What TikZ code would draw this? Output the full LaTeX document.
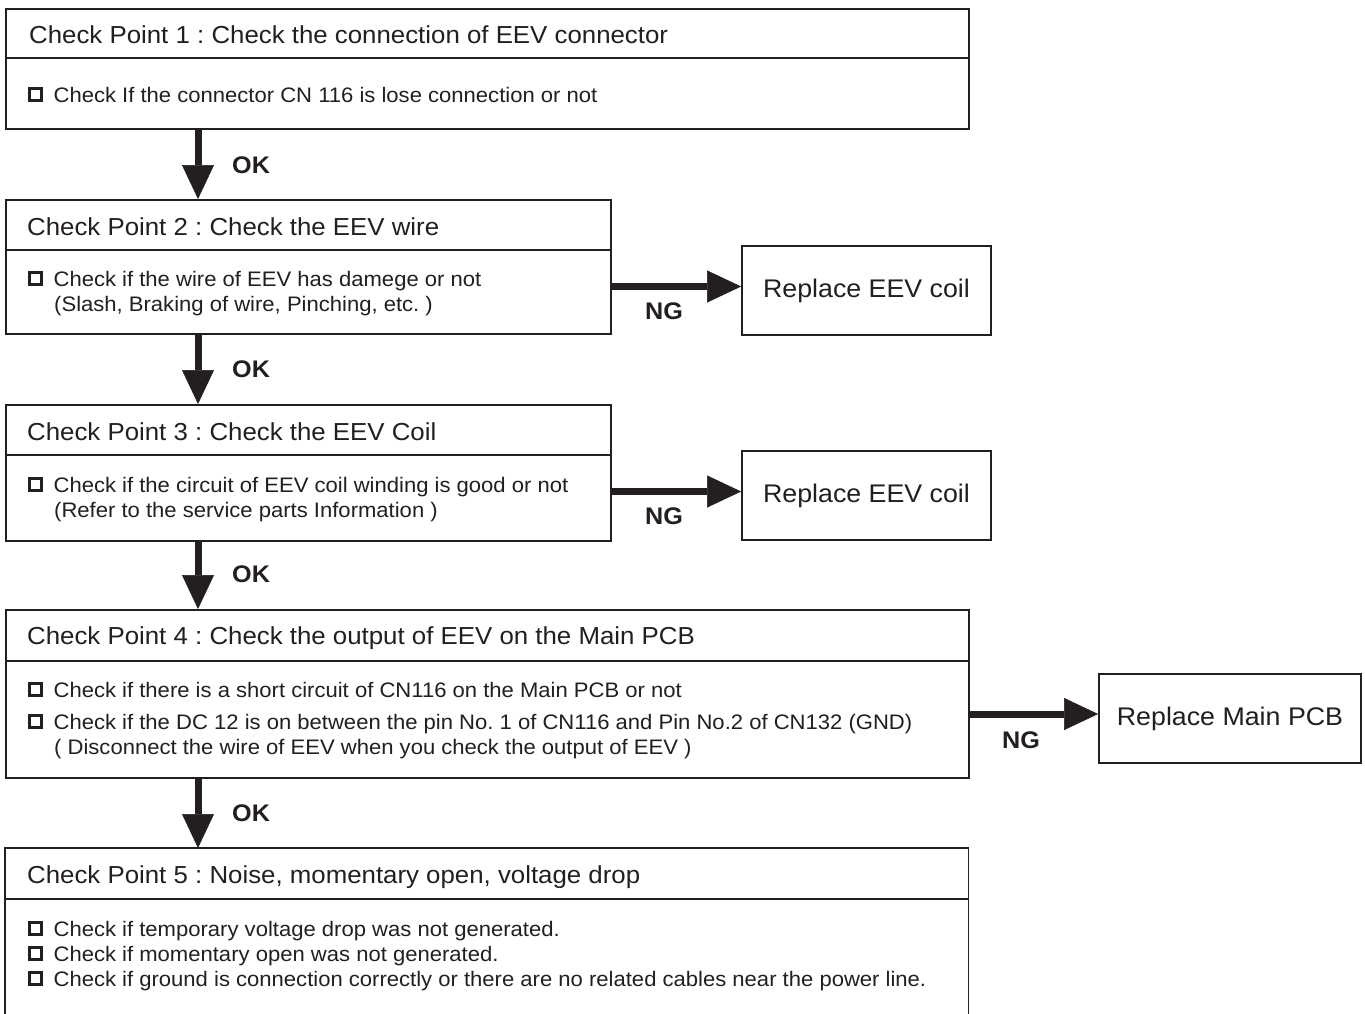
\documentclass[tikz,border=0pt]{standalone}
\usepackage{fontspec}
\setmainfont[FakeStretch=1.05]{Liberation Sans}
\usetikzlibrary{arrows.meta}
\definecolor{ink}{HTML}{231F20}
\frenchspacing
\newcommand\chkbox{\raisebox{3.2pt}{\setlength\fboxrule{3.2pt}\setlength\fboxsep{0pt}\fbox{\rule{0pt}{8.5pt}\hspace{8.5pt}}}\hspace{10.5pt}}
\tikzset{
  box/.style={draw=ink, line width=1.8pt, fill=white, inner sep=0pt, anchor=north west},
  head/.style={anchor=base west, inner sep=0pt, text=ink, font=\fontsize{24.6}{28}\selectfont},
  body/.style={anchor=base west, inner sep=0pt, text=ink, font=\fontsize{21}{24}\selectfont},
  lbl/.style={anchor=base west, inner sep=0pt, text=ink, font=\fontsize{24}{26}\selectfont\bfseries},
  repl/.style={box, anchor=center, text=ink, font=\fontsize{25.5}{28}\selectfont},
  bigarrow/.style={draw=ink, line width=7pt, -{Triangle[length=34pt,width=32pt,line width=0.5pt]}},
  divider/.style={draw=ink, line width=1.8pt}
}
\begin{document}
\begin{tikzpicture}[x=1pt,y=-1pt]
\useasboundingbox (0,0) rectangle (1365,1013);
% main boxes
\node[box, minimum width=963pt, minimum height=120pt] (b1) at (5,8) {};
\node[box, minimum width=605pt, minimum height=134pt] (b2) at (5,199) {};
\node[box, minimum width=605pt, minimum height=136pt] (b3) at (5,404) {};
\node[box, minimum width=963pt, minimum height=168pt] (b4) at (5,609) {};
\node[inner sep=0pt, anchor=north west, minimum width=963pt, minimum height=175pt] (b5) at (5,848) {};
\draw[divider] (b5.south west) -- (b5.north west) -- (b5.north east) -- (b5.south east);
% dividers
\coordinate (h1) at (0,58);
\coordinate (h2) at (0,250);
\coordinate (h3) at (0,455);
\coordinate (h4) at (0,661);
\coordinate (h5) at (0,899);
\draw[divider] (b1.west |- h1) -- (b1.east |- h1);
\draw[divider] (b2.west |- h2) -- (b2.east |- h2);
\draw[divider] (b3.west |- h3) -- (b3.east |- h3);
\draw[divider] (b4.west |- h4) -- (b4.east |- h4);
\draw[divider] (b5.west |- h5) -- (b5.east |- h5);
% replace boxes
\node[repl, minimum width=249pt, minimum height=89pt] (r1) at (866.5,290.5) {Replace EEV coil};
\node[repl, minimum width=249pt, minimum height=89pt] (r2) at (866.5,495.5) {Replace EEV coil};
\node[repl, minimum width=262pt, minimum height=89pt] (r3) at (1230,718.5) {Replace Main PCB};
% texts box 1
\node[head] (t1) at (29,43) {Check Point 1 : Check the connection of EEV connector};
\node[body] (t1a) at (28,102) {\chkbox Check If the connector CN 116 is lose connection or not};
% box 2
\node[head] (t2) at (27,235) {Check Point 2 : Check the EEV wire};
\node[body] (t2a) at (28,286) {\chkbox Check if the wire of EEV has damege or not};
\node[body] (t2b) at (54,311) {(Slash, Braking of wire, Pinching, etc. )};
% box 3
\node[head] (t3) at (27,440) {Check Point 3 : Check the EEV Coil};
\node[body] (t3a) at (28,492) {\chkbox Check if the circuit of EEV coil winding is good or not};
\node[body] (t3b) at (54,517) {(Refer to the service parts Information )};
% box 4
\node[head] (t4) at (27,644) {Check Point 4 : Check the output of EEV on the Main PCB};
\node[body] (t4a) at (28,697) {\chkbox Check if there is a short circuit of CN116 on the Main PCB or not};
\node[body] (t4b) at (28,729) {\chkbox Check if the DC 12 is on between the pin No. 1 of CN116 and Pin No.2 of CN132 (GND)};
\node[body] (t4c) at (54,754) {( Disconnect the wire of EEV when you check the output of EEV )};
% box 5
\node[head] (t5) at (27,883) {Check Point 5 : Noise, momentary open, voltage drop};
\node[body] (t5a) at (28,936) {\chkbox Check if temporary voltage drop was not generated.};
\node[body] (t5b) at (28,961) {\chkbox Check if momentary open was not generated.};
\node[body] (t5c) at (28,986) {\chkbox Check if ground is connection correctly or there are no related cables near the power line.};
% vertical arrows
\coordinate (ax) at (198,0);
\draw[bigarrow] (b1.south -| ax) -- (b2.north -| ax);
\draw[bigarrow] (b2.south -| ax) -- (b3.north -| ax);
\draw[bigarrow] (b3.south -| ax) -- (b4.north -| ax);
\draw[bigarrow] (b4.south -| ax) -- (b5.north -| ax);
\node[lbl] (ok1) at (232,173) {OK};
\node[lbl] (ok2) at (232,377) {OK};
\node[lbl] (ok3) at (232,582) {OK};
\node[lbl] (ok4) at (232,821) {OK};
% horizontal arrows
\coordinate (ay1) at (0,286.5);
\coordinate (ay2) at (0,491.5);
\coordinate (ay3) at (0,714);
\draw[bigarrow] (b2.east |- ay1) -- (r1.west |- ay1);
\draw[bigarrow] (b3.east |- ay2) -- (r2.west |- ay2);
\draw[bigarrow] (b4.east |- ay3) -- (r3.west |- ay3);
\node[lbl] (ng1) at (645,319) {NG};
\node[lbl] (ng2) at (645,524) {NG};
\node[lbl] (ng3) at (1002,748) {NG};
\end{tikzpicture}
\end{document}
